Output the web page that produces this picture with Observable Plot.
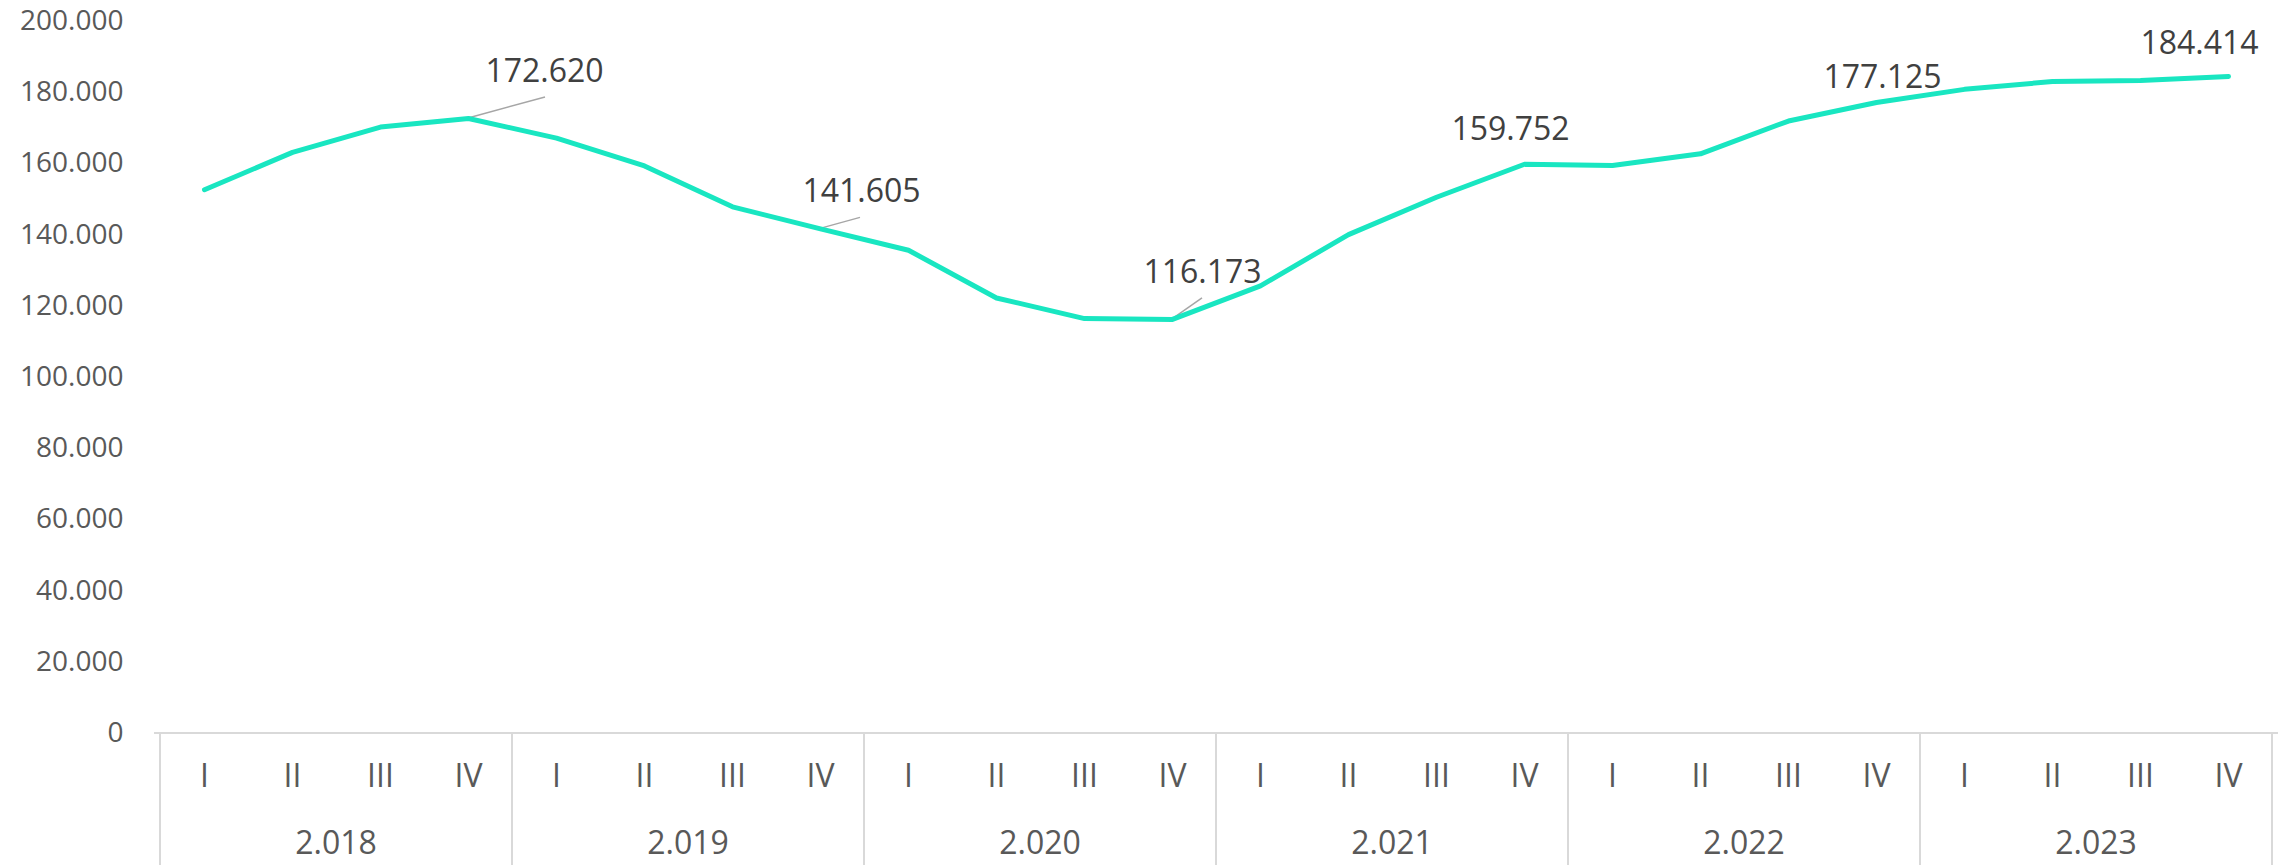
<!DOCTYPE html>
<html>
<head>
<meta charset="utf-8">
<script src="https://cdn.jsdelivr.net/npm/d3@7"></script>
<script src="https://cdn.jsdelivr.net/npm/@observablehq/plot@0.6"></script>
<style>
  html, body { margin: 0; padding: 0; background: #ffffff; }
  #chart svg { display: block; }
</style>
</head>
<body>
<div id="chart"></div>
<script>
// ---- data ----
const years = ["2.018", "2.019", "2.020", "2.021", "2.022", "2.023"];
const quarters = ["I", "II", "III", "IV"];
const values2018 = [152600, 163100, 170200, 172620];
const values2019 = [167100, 159300, 147800, 141605];
const values2020 = [135600, 122200, 116400, 116173];
const values2021 = [125600, 140000, 150500, 159752];
const values2022 = [159400, 162700, 171900, 177125];
const values2023 = [180800, 183000, 183300, 184414];
const yTicks = [0, 20000, 40000, 60000, 80000, 100000, 120000, 140000, 160000, 180000, 200000];
const labelledYears = ["2.018", "2.019", "2.020", "2.021", "2.022", "2.023"]; // labelled at quarter IV

// ---- layout / style (not data) ----
const W = 2295, H = 865;
const lineColor = "#19E6C1";
const axisGray = "#595959";
const labelGray = "#404040";
const boxGray = "#D9D9D9";
const leaderGray = "#A6A6A6";
const font = "'Open Sans', sans-serif";
// text offsets [dx, dy] and leader offsets [lx, ly] (pixels) per labelled year
const labelLayout = {
  "2.018": {dx: 76, dy: -47, leader: [77, -21]},
  "2.019": {dx: 41, dy: -37, leader: [40, -11]},
  "2.020": {dx: 30, dy: -47, leader: [30, -21]},
  "2.021": {dx: -14, dy: -35, leader: null},
  "2.022": {dx: 6, dy: -25, leader: null},
  "2.023": {dx: -29, dy: -33, leader: null}
};

const series = [values2018, values2019, values2020, values2021, values2022, values2023];
const rows = [];
years.forEach((y, yi) => quarters.forEach((q, qi) => {
  rows.push({key: y + "|" + q, year: y, q, v: series[yi][qi]});
}));
const keys = rows.map(d => d.key);
const fmt = d => d3.format(",")(d).replace(/,/g, ".");

const labelled = rows.filter(d => d.q === "IV" && labelledYears.includes(d.year));

// year grouping axis (separators + year labels) drawn with the plot's scales
function yearAxis(index, scales, values, dimensions) {
  const x = scales.x, y = scales.y;
  const bw = x(keys[1]) - x(keys[0]);
  const y0 = y(0);
  const g = d3.create("svg:g");
  const bounds = years.map(yr => x(yr + "|I"));
  bounds.push(x(keys[keys.length - 1]) + bw);
  bounds.forEach(bx => {
    g.append("line").attr("x1", bx).attr("x2", bx).attr("y1", y0).attr("y2", dimensions.height)
      .attr("stroke", boxGray).attr("stroke-width", 2);
  });
  years.forEach(yr => {
    g.append("text").attr("x", x(yr + "|I") + 2 * bw).attr("y", y0 + 110)
      .attr("dy", "0.35em").attr("text-anchor", "middle")
      .attr("fill", axisGray).attr("font-size", 32).attr("font-family", font)
      .text(yr);
  });
  return g.node();
}

function leaders(index, scales) {
  const x = scales.x, y = scales.y;
  const bw = x(keys[1]) - x(keys[0]);
  const g = d3.create("svg:g");
  labelled.forEach(d => {
    const L = labelLayout[d.year];
    if (!L || !L.leader) return;
    const px = x(d.key) + bw / 2, py = y(d.v);
    g.append("line").attr("x1", px).attr("y1", py)
      .attr("x2", px + L.leader[0]).attr("y2", py + L.leader[1])
      .attr("stroke", leaderGray).attr("stroke-width", 1.5);
  });
  return g.node();
}

const labelMarks = labelled.map(d => {
  const L = labelLayout[d.year];
  return Plot.text([d], {
    x: "key", y: "v", text: r => fmt(r.v),
    dx: L.dx, dy: L.dy, fontSize: 32, fill: labelGray, fontFamily: font
  });
});

const chart = Plot.plot({
  width: W,
  height: H,
  marginLeft: 154,
  marginRight: 17,
  marginTop: 20.5,
  marginBottom: 132.5,
  style: {fontFamily: font, fontSize: "28px", color: axisGray, background: "#ffffff"},
  x: {type: "band", domain: keys, padding: 0, axis: null},
  y: {domain: [0, 200000], ticks: yTicks, tickSize: 0, tickPadding: 31, tickFormat: fmt, label: null},
  marks: [
    Plot.ruleY([0], {stroke: boxGray, strokeWidth: 2}),
    yearAxis,
    Plot.text(rows, {x: "key", text: "q", frameAnchor: "bottom", lineAnchor: "middle", dy: 44, fontSize: 32, fill: axisGray, fontFamily: font}),
    leaders,
    Plot.line(rows, {x: "key", y: "v", stroke: lineColor, strokeWidth: 5, strokeLinecap: "round", strokeLinejoin: "round"}),
    ...labelMarks
  ]
});
document.getElementById("chart").appendChild(chart);
</script>
</body>
</html>
